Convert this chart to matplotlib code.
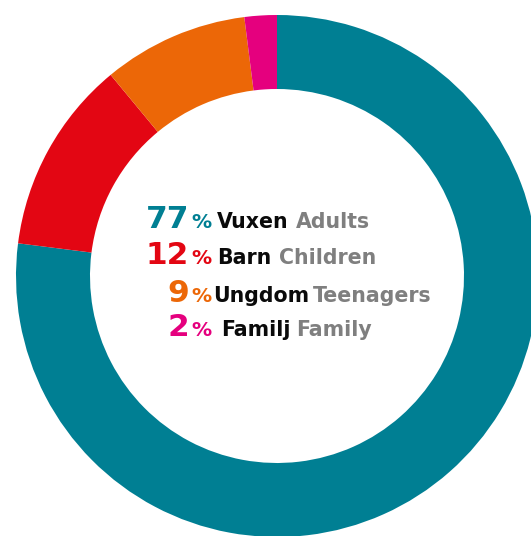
import matplotlib
matplotlib.use("Agg")
import matplotlib.pyplot as plt

# ---- data ----
values = [77, 12, 9, 2]
labels_sv = ["Vuxen", "Barn", "Ungdom", "Familj"]
labels_en = ["Adults", "Children", "Teenagers", "Family"]
colors = ["#007F93", "#E30613", "#EC6707", "#E5007E"]

W, H = 531, 536
fig = plt.figure(figsize=(W / 100, H / 100), dpi=100)
ax = fig.add_axes([0, 0, 1, 1])

cx, cy = 277, H - 276
r_out, r_in = 261, 187
ax.pie(values, colors=colors, startangle=90, counterclock=False,
       center=(cx, cy), radius=r_out,
       wedgeprops=dict(width=r_out - r_in, linewidth=0, antialiased=True))
ax.set_xlim(0, W)
ax.set_ylim(0, H)
ax.set_aspect("equal", adjustable="box")
ax.axis("off")

# ---- legend text in the centre (layout positions, pixel coords from top) ----
baselines = [228, 264.5, 302, 335.5]
num_right = 189
pct_left = 191
sv_left = [217, 217, 213, 221]
en_left = [296, 279, 313, 296]
font = "DejaVu Sans"

for i, v in enumerate(values):
    yb = H - baselines[i]
    ax.text(num_right, yb, f"{v}", ha="right", va="baseline", color=colors[i],
            fontsize=22.5, fontweight="bold", family=font)
    ax.text(pct_left, yb, "%", ha="left", va="baseline", color=colors[i],
            fontsize=14.5, fontweight="bold", family=font)
    ax.text(sv_left[i], yb, labels_sv[i], ha="left", va="baseline", color="#0a0a0a",
            fontsize=14.8, fontweight="bold", family=font)
    ax.text(en_left[i], yb, labels_en[i], ha="left", va="baseline", color="#7f7f7f",
            fontsize=14.8, fontweight="bold", family=font)

fig.savefig("out.png", dpi=100, facecolor="white")
